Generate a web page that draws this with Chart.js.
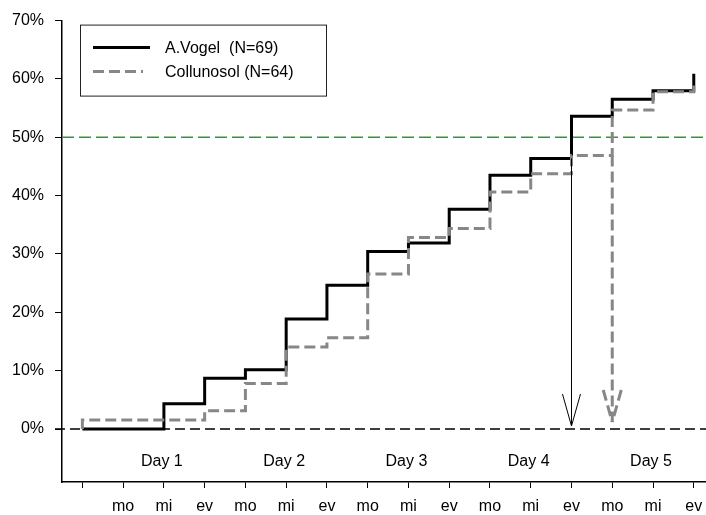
<!DOCTYPE html>
<html>
<head>
<meta charset="utf-8">
<script src="https://cdn.jsdelivr.net/npm/chart.js@4"></script>
<style>
  body { margin: 0; background: #fff; }
</style>
</head>
<body>
<canvas id="chart1" width="706" height="515"></canvas>
<script>
// time slots: 0 = start, then morning / midday / evening for 5 days
var slots = [0, 1, 2, 3, 4, 5, 6, 7, 8, 9, 10, 11, 12, 13, 14, 15];
var slotLabels = ["", "mo", "mi", "ev", "mo", "mi", "ev", "mo", "mi", "ev", "mo", "mi", "ev", "mo", "mi", "ev"];
var dayLabels = ["Day 1", "Day 2", "Day 3", "Day 4", "Day 5"];
var yTicks = [0, 10, 20, 30, 40, 50, 60, 70];

// cumulative % of patients (value held from this slot to the next)
var vogel = [0, 0, 4.35, 8.70, 10.14, 18.84, 24.64, 30.43, 31.88, 37.68, 43.48, 46.38, 53.62, 56.52, 57.97, 60.87];
var collunosol = [1.56, 1.56, 1.56, 3.13, 7.81, 14.06, 15.63, 26.56, 32.81, 34.38, 40.63, 43.75, 46.88, 54.69, 57.81, 59.38];

var FONT = "'Liberation Sans', Arial, sans-serif";
Chart.defaults.font.family = FONT;
Chart.defaults.font.size = 16;
Chart.defaults.color = '#000';

function steps(vals) {
    var pts = [{x: slots[0], y: 0}];
    slots.forEach(function(s, i) { pts.push({x: s, y: vals[i]}); });
    return pts;
}

function line(ctx, x1, y1, x2, y2) {
    ctx.beginPath();
    ctx.moveTo(x1, y1);
    ctx.lineTo(x2, y2);
    ctx.stroke();
}

var extras = {
    id: 'extras',
    beforeDatasetsDraw: function(chart) {
        var ctx = chart.ctx, a = chart.chartArea;
        var y = chart.scales.y;
        ctx.save();
        // 50% reference
        ctx.strokeStyle = '#2e9a2e';
        ctx.lineWidth = 1.5;
        ctx.setLineDash([12, 5]);
        line(ctx, a.left, y.getPixelForValue(50), chart.width, y.getPixelForValue(50));
        // 0% baseline
        ctx.strokeStyle = '#000';
        ctx.lineWidth = 1.3;
        ctx.setLineDash([10, 5]);
        line(ctx, a.left - 7, y.getPixelForValue(0), chart.width, y.getPixelForValue(0));
        ctx.restore();
    },
    afterDatasetsDraw: function(chart) {
        var ctx = chart.ctx, a = chart.chartArea;
        var x = chart.scales.x, y = chart.scales.y;
        ctx.save();

        // arrows where each series first passes 50%
        chart.data.datasets.forEach(function(ds) {
            var vals = ds.stepValues;
            var i = vals.findIndex(function(v) { return v >= 50; });
            var px = x.getPixelForValue(slots[i]);
            var top = y.getPixelForValue(vals[i - 1]);
            var tip = y.getPixelForValue(0) - ds.arrowGap;
            ctx.strokeStyle = ds.borderColor;
            ctx.lineWidth = ds.arrowWidth;
            ctx.setLineDash(ds.borderDash || []);
            line(ctx, px, top, px, tip);
            line(ctx, px - 9, tip - 32, px, tip);
            line(ctx, px + 9, tip - 32, px, tip);
        });

        // day labels
        ctx.setLineDash([]);
        ctx.fillStyle = '#000';
        ctx.font = '16px ' + FONT;
        ctx.textAlign = 'center';
        ctx.textBaseline = 'middle';
        dayLabels.forEach(function(d, k) {
            ctx.fillText(d, x.getPixelForValue(3 * k + 1.95), y.getPixelForValue(-5.5));
        });

        // legend box
        var lx = a.left + 18, ly = a.top + 4;
        ctx.strokeStyle = '#222';
        ctx.lineWidth = 1;
        ctx.strokeRect(lx + 0.5, ly + 0.5, 246, 71);
        ctx.textAlign = 'left';
        chart.data.datasets.slice().sort(function(p, q) { return q.order - p.order; }).forEach(function(ds, k) {
            var yy = ly + 23 + k * 24;
            ctx.strokeStyle = ds.borderColor;
            ctx.lineWidth = ds.borderWidth;
            ctx.setLineDash(ds.borderDash || []);
            line(ctx, lx + 13, yy, lx + (ds.borderDash ? 63 : 70), yy);
            ctx.setLineDash([]);
            ctx.fillText(ds.label, lx + 85, yy + 1);
        });
        ctx.restore();
    }
};

new Chart(document.getElementById('chart1'), {
    type: 'line',
    data: {
        datasets: [{
            label: "A.Vogel  (N=69)",
            data: steps(vogel),
            stepValues: vogel,
            stepped: 'before',
            borderColor: '#000',
            borderWidth: 3,
            arrowWidth: 1,
            arrowGap: 3,
            pointRadius: 0,
            order: 1
        }, {
            label: "Collunosol (N=64)",
            data: steps(collunosol),
            stepValues: collunosol,
            stepped: 'before',
            borderColor: '#878787',
            borderWidth: 3,
            borderDash: [11, 5],
            arrowWidth: 3,
            arrowGap: 7,
            pointRadius: 0,
            order: 0
        }]
    },
    options: {
        responsive: false,
        animation: false,
        layout: { padding: { top: 14, right: 0, left: 0, bottom: 0 } },
        plugins: { legend: { display: false }, tooltip: { enabled: false } },
        scales: {
            x: {
                type: 'linear',
                min: -0.5,
                max: 15.3,
                afterBuildTicks: function(s) { s.ticks = slots.map(function(v) { return {value: v}; }); },
                afterFit: function(s) { s.height = 33; s.paddingLeft = 0; s.paddingRight = 0; },
                ticks: {
                    autoSkip: false,
                    maxRotation: 0,
                    padding: 9,
                    callback: function(v) { return slotLabels[v]; }
                },
                grid: { drawOnChartArea: false, tickLength: 6, color: '#000', tickWidth: 1 },
                border: { color: '#000', width: 1.5 }
            },
            y: {
                min: -9.08,
                max: 70,
                afterBuildTicks: function(s) { s.ticks = yTicks.map(function(v) { return {value: v}; }); },
                afterFit: function(s) { s.width = 62; },
                ticks: {
                    padding: 11,
                    callback: function(v) { return v + '%'; }
                },
                grid: { drawOnChartArea: false, tickLength: 7, color: '#000', tickWidth: 1 },
                border: { color: '#000', width: 1.5 }
            }
        }
    },
    plugins: [extras]
});
</script>
</body>
</html>
